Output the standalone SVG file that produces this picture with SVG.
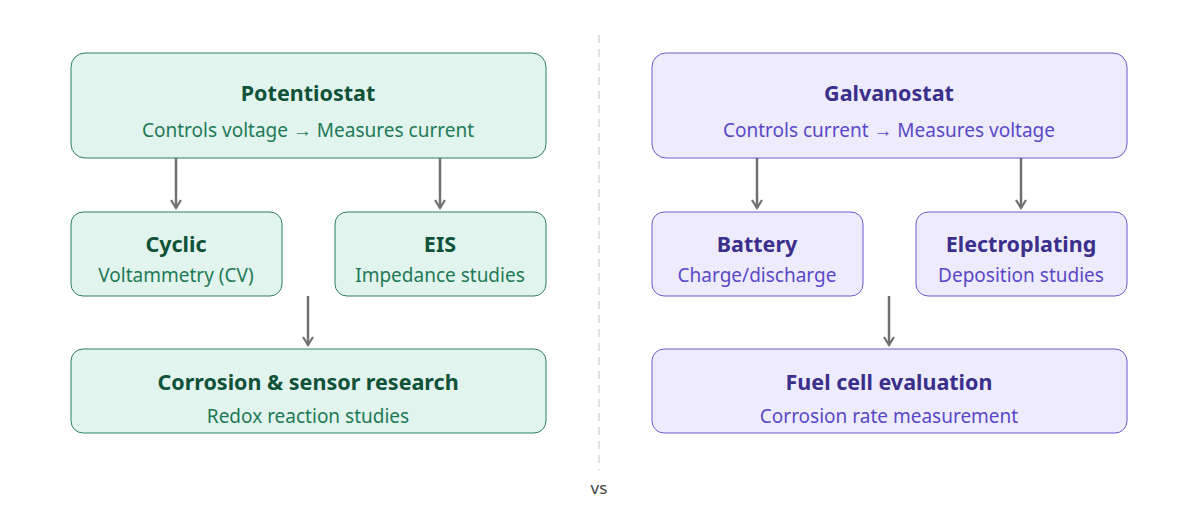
<svg xmlns="http://www.w3.org/2000/svg" width="1198" height="516" viewBox="0 0 1198 516">
<style>
text{font-family:"Noto Sans","Open Sans",sans-serif;text-anchor:middle}
.g{fill:#e1f4ee;stroke:#2e7d62;stroke-width:1}
.p{fill:#eeecfc;stroke:#6a5acd;stroke-width:1}
.gt{fill:#0f5238;font-weight:bold;font-size:21.5px}
.gs{fill:#1e7a55;font-size:19px}
.pt{fill:#3b2f8c;font-weight:bold;font-size:21.5px}
.ps{fill:#5a48c8;font-size:19px}
.c{stroke:#707070;stroke-width:2.5;fill:none}
</style>
<defs><marker id="a" viewBox="0 0 12 12" refX="10" refY="6" markerWidth="12" markerHeight="12" markerUnits="userSpaceOnUse" orient="auto"><path d="M2,1 L10,6 L2,11" fill="none" stroke="#707070" stroke-width="2.2"/></marker></defs>
<rect width="1198" height="516" fill="#fff"/>
<line x1="599" y1="35" x2="599" y2="470" stroke="#d8d8d8" stroke-width="1.5" stroke-dasharray="8,6"/>
<text x="599" y="494" font-size="17" fill="#444">vs</text>
<g id="connectors">
<line class="c" x1="176" y1="158" x2="176" y2="208" marker-end="url(#a)"/>
<line class="c" x1="440" y1="158" x2="440" y2="208" marker-end="url(#a)"/>
<line class="c" x1="308" y1="296" x2="308" y2="345" marker-end="url(#a)"/>
<line class="c" x1="757" y1="158" x2="757" y2="208" marker-end="url(#a)"/>
<line class="c" x1="1021" y1="158" x2="1021" y2="208" marker-end="url(#a)"/>
<line class="c" x1="889" y1="296" x2="889" y2="345" marker-end="url(#a)"/>
</g>
<g id="potentiostat"><rect class="g" x="71" y="53" width="475" height="105" rx="14"/><text class="gt" x="308" y="101">Potentiostat</text><text class="gs" x="308" y="137">Controls voltage → Measures current</text></g>
<g id="cyclic"><rect class="g" x="71" y="212" width="211" height="84" rx="12"/><text class="gt" x="176" y="252">Cyclic</text><text class="gs" x="176" y="282">Voltammetry (CV)</text></g>
<g id="eis"><rect class="g" x="335" y="212" width="211" height="84" rx="12"/><text class="gt" x="440" y="252">EIS</text><text class="gs" x="440" y="282">Impedance studies</text></g>
<g id="corrosion"><rect class="g" x="71" y="349" width="475" height="84" rx="12"/><text class="gt" x="308" y="390">Corrosion &amp; sensor research</text><text class="gs" x="308" y="423">Redox reaction studies</text></g>
<g id="galvanostat"><rect class="p" x="652" y="53" width="475" height="105" rx="14"/><text class="pt" x="889" y="101">Galvanostat</text><text class="ps" x="889" y="137">Controls current → Measures voltage</text></g>
<g id="battery"><rect class="p" x="652" y="212" width="211" height="84" rx="12"/><text class="pt" x="757" y="252">Battery</text><text class="ps" x="757" y="282">Charge/discharge</text></g>
<g id="electroplating"><rect class="p" x="916" y="212" width="211" height="84" rx="12"/><text class="pt" x="1021" y="252">Electroplating</text><text class="ps" x="1021" y="282">Deposition studies</text></g>
<g id="fuelcell"><rect class="p" x="652" y="349" width="475" height="84" rx="12"/><text class="pt" x="889" y="390">Fuel cell evaluation</text><text class="ps" x="889" y="423">Corrosion rate measurement</text></g>
</svg>
